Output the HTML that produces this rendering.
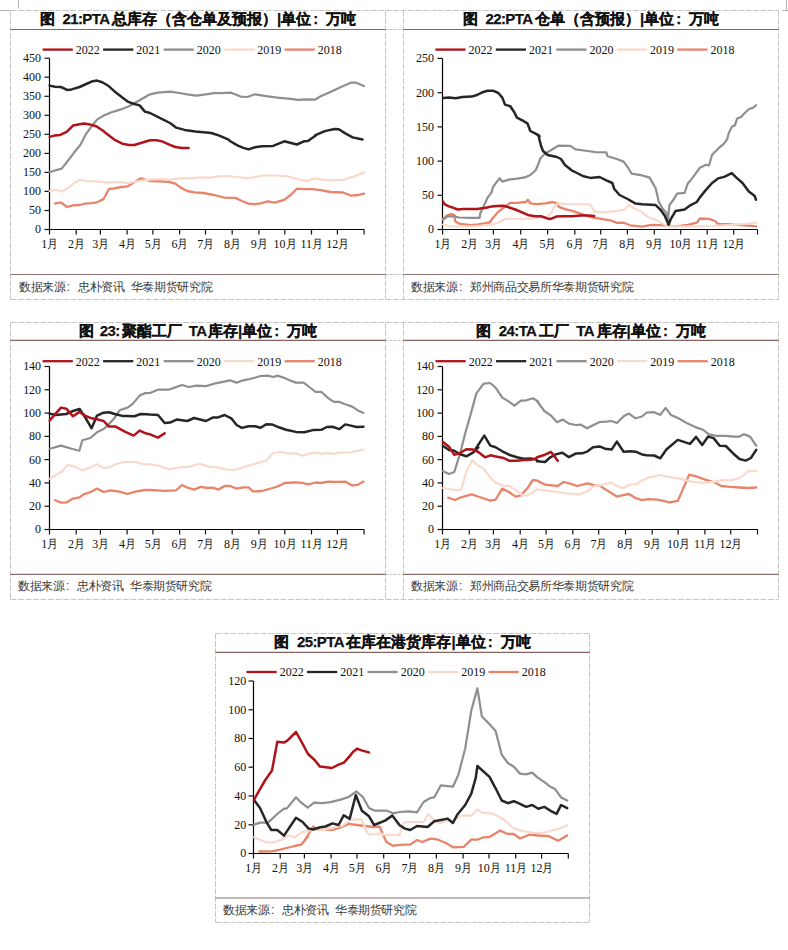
<!DOCTYPE html><html><head><meta charset="utf-8"><style>
html,body{margin:0;padding:0;background:#fff;width:788px;height:950px;overflow:hidden;position:relative}
.t{position:absolute;white-space:nowrap;line-height:1}
.title{font-family:"Liberation Sans",sans-serif;font-weight:bold;font-size:15px;color:#111;-webkit-text-stroke:0.25px #111}
.src{font-family:"Liberation Sans",sans-serif;font-size:12px;letter-spacing:-0.35px;color:#3a3a3a}
.c{display:inline-block;width:12.4px;padding-left:1.2px;box-sizing:border-box}
.sp{display:inline-block;width:6.2px}
.lt{letter-spacing:-0.6px;margin:0 2.5px 0 7.5px}
.lt2{letter-spacing:-0.6px;margin:0 1.5px 0 6.5px}
.lt3{letter-spacing:-0.6px;margin:0 2.5px 0 6px}
.tc{display:inline-block;width:15px;padding-left:2.2px;box-sizing:border-box;text-align:left}
svg{position:absolute;left:0;top:0}
.ax{font-family:"Liberation Serif",serif;font-size:12px;fill:#111}
</style></head><body>
<svg width="788" height="950" viewBox="0 0 788 950">
<path d="M10.5 10.5V299.5M385.5 10.5V299.5" fill="none" stroke="#c6c6c6" stroke-width="1" stroke-dasharray="6 1.5"/>
<path d="M10.5 10.5H778.5M10.5 299.5H778.5" fill="none" stroke="#c6c6c6" stroke-width="1" stroke-dasharray="6 1.5"/>
<line x1="385.5" y1="29.5" x2="403.5" y2="29.5" stroke="#c8c0c0" stroke-width="1" stroke-dasharray="3 1"/>
<line x1="385.5" y1="274.5" x2="403.5" y2="274.5" stroke="#c8c0c0" stroke-width="1" stroke-dasharray="3 1"/>
<line x1="10.5" y1="29.5" x2="385.5" y2="29.5" stroke="#87625f" stroke-width="1.1"/>
<line x1="10.5" y1="274.5" x2="385.5" y2="274.5" stroke="#8e7070" stroke-width="1.1"/>
<path d="M49.5 58.2V229.5H364.1" fill="none" stroke="#000" stroke-width="1.2"/>
<line x1="44.5" y1="229.5" x2="49.5" y2="229.5" stroke="#111" stroke-width="1.2"/>
<text class="ax" transform="translate(40.9 233.4) scale(1 1.11)" text-anchor="end">0</text>
<line x1="44.5" y1="210.5" x2="49.5" y2="210.5" stroke="#111" stroke-width="1.2"/>
<text class="ax" transform="translate(40.9 214.4) scale(1 1.11)" text-anchor="end">50</text>
<line x1="44.5" y1="191.4" x2="49.5" y2="191.4" stroke="#111" stroke-width="1.2"/>
<text class="ax" transform="translate(40.9 195.3) scale(1 1.11)" text-anchor="end">100</text>
<line x1="44.5" y1="172.4" x2="49.5" y2="172.4" stroke="#111" stroke-width="1.2"/>
<text class="ax" transform="translate(40.9 176.3) scale(1 1.11)" text-anchor="end">150</text>
<line x1="44.5" y1="153.4" x2="49.5" y2="153.4" stroke="#111" stroke-width="1.2"/>
<text class="ax" transform="translate(40.9 157.3) scale(1 1.11)" text-anchor="end">200</text>
<line x1="44.5" y1="134.3" x2="49.5" y2="134.3" stroke="#111" stroke-width="1.2"/>
<text class="ax" transform="translate(40.9 138.2) scale(1 1.11)" text-anchor="end">250</text>
<line x1="44.5" y1="115.3" x2="49.5" y2="115.3" stroke="#111" stroke-width="1.2"/>
<text class="ax" transform="translate(40.9 119.2) scale(1 1.11)" text-anchor="end">300</text>
<line x1="44.5" y1="96.3" x2="49.5" y2="96.3" stroke="#111" stroke-width="1.2"/>
<text class="ax" transform="translate(40.9 100.2) scale(1 1.11)" text-anchor="end">350</text>
<line x1="44.5" y1="77.2" x2="49.5" y2="77.2" stroke="#111" stroke-width="1.2"/>
<text class="ax" transform="translate(40.9 81.1) scale(1 1.11)" text-anchor="end">400</text>
<line x1="44.5" y1="58.2" x2="49.5" y2="58.2" stroke="#111" stroke-width="1.2"/>
<text class="ax" transform="translate(40.9 62.1) scale(1 1.11)" text-anchor="end">450</text>
<line x1="49.5" y1="229.5" x2="49.5" y2="234.5" stroke="#111" stroke-width="1.2"/>
<text class="ax" transform="translate(49.5 247.8) scale(1 1.11)" text-anchor="middle">1<tspan style="font-family:'Liberation Sans',sans-serif;font-size:10.6px">月</tspan></text>
<line x1="76.2" y1="229.5" x2="76.2" y2="234.5" stroke="#111" stroke-width="1.2"/>
<text class="ax" transform="translate(76.2 247.8) scale(1 1.11)" text-anchor="middle">2<tspan style="font-family:'Liberation Sans',sans-serif;font-size:10.6px">月</tspan></text>
<line x1="100.4" y1="229.5" x2="100.4" y2="234.5" stroke="#111" stroke-width="1.2"/>
<text class="ax" transform="translate(100.4 247.8) scale(1 1.11)" text-anchor="middle">3<tspan style="font-family:'Liberation Sans',sans-serif;font-size:10.6px">月</tspan></text>
<line x1="127.1" y1="229.5" x2="127.1" y2="234.5" stroke="#111" stroke-width="1.2"/>
<text class="ax" transform="translate(127.1 247.8) scale(1 1.11)" text-anchor="middle">4<tspan style="font-family:'Liberation Sans',sans-serif;font-size:10.6px">月</tspan></text>
<line x1="152.9" y1="229.5" x2="152.9" y2="234.5" stroke="#111" stroke-width="1.2"/>
<text class="ax" transform="translate(152.9 247.8) scale(1 1.11)" text-anchor="middle">5<tspan style="font-family:'Liberation Sans',sans-serif;font-size:10.6px">月</tspan></text>
<line x1="179.6" y1="229.5" x2="179.6" y2="234.5" stroke="#111" stroke-width="1.2"/>
<text class="ax" transform="translate(179.6 247.8) scale(1 1.11)" text-anchor="middle">6<tspan style="font-family:'Liberation Sans',sans-serif;font-size:10.6px">月</tspan></text>
<line x1="205.5" y1="229.5" x2="205.5" y2="234.5" stroke="#111" stroke-width="1.2"/>
<text class="ax" transform="translate(205.5 247.8) scale(1 1.11)" text-anchor="middle">7<tspan style="font-family:'Liberation Sans',sans-serif;font-size:10.6px">月</tspan></text>
<line x1="232.2" y1="229.5" x2="232.2" y2="234.5" stroke="#111" stroke-width="1.2"/>
<text class="ax" transform="translate(232.2 247.8) scale(1 1.11)" text-anchor="middle">8<tspan style="font-family:'Liberation Sans',sans-serif;font-size:10.6px">月</tspan></text>
<line x1="258.9" y1="229.5" x2="258.9" y2="234.5" stroke="#111" stroke-width="1.2"/>
<text class="ax" transform="translate(258.9 247.8) scale(1 1.11)" text-anchor="middle">9<tspan style="font-family:'Liberation Sans',sans-serif;font-size:10.6px">月</tspan></text>
<line x1="284.8" y1="229.5" x2="284.8" y2="234.5" stroke="#111" stroke-width="1.2"/>
<text class="ax" transform="translate(284.8 247.8) scale(1 1.11)" text-anchor="middle">10<tspan style="font-family:'Liberation Sans',sans-serif;font-size:10.6px">月</tspan></text>
<line x1="311.5" y1="229.5" x2="311.5" y2="234.5" stroke="#111" stroke-width="1.2"/>
<text class="ax" transform="translate(311.5 247.8) scale(1 1.11)" text-anchor="middle">11<tspan style="font-family:'Liberation Sans',sans-serif;font-size:10.6px">月</tspan></text>
<line x1="337.4" y1="229.5" x2="337.4" y2="234.5" stroke="#111" stroke-width="1.2"/>
<text class="ax" transform="translate(337.4 247.8) scale(1 1.11)" text-anchor="middle">12<tspan style="font-family:'Liberation Sans',sans-serif;font-size:10.6px">月</tspan></text>
<line x1="364.1" y1="229.5" x2="364.1" y2="234.5" stroke="#111" stroke-width="1.2"/>
<line x1="42.6" y1="49.6" x2="72.8" y2="49.6" stroke="#b0131a" stroke-width="2.3"/>
<text class="ax" transform="translate(75.8 53.9) scale(1 1.11)">2022</text>
<line x1="103.1" y1="49.6" x2="133.3" y2="49.6" stroke="#262626" stroke-width="2.3"/>
<text class="ax" transform="translate(136.3 53.9) scale(1 1.11)">2021</text>
<line x1="163.6" y1="49.6" x2="193.8" y2="49.6" stroke="#8f8f8f" stroke-width="2.3"/>
<text class="ax" transform="translate(196.8 53.9) scale(1 1.11)">2020</text>
<line x1="224.1" y1="49.6" x2="254.3" y2="49.6" stroke="#f8dacd" stroke-width="2.3"/>
<text class="ax" transform="translate(257.3 53.9) scale(1 1.11)">2019</text>
<line x1="284.6" y1="49.6" x2="314.8" y2="49.6" stroke="#e7846a" stroke-width="2.3"/>
<text class="ax" transform="translate(317.8 53.9) scale(1 1.11)">2018</text>
<path d="M55 203.6 61 202.3 67 207 73 205.4 79.6 205 85 203.6 91.6 203.2 97 202.3 103.6 199 109 189 114.3 188.3 121 187 127.6 186.3 134.3 182.3 140.9 178.3 150 181 159.3 181.4 168.7 181.9 175.3 183.6 180.6 187.6 187.3 191 194 192.3 203.3 193 214 195 224.6 197.6 235.3 197.9 241.9 201 248.6 203.6 255 204.1 260.6 203.4 267.6 201.3 274.5 202.7 284.3 199.9 290.6 195 296.9 188.7 303.9 189.2 312.2 189.2 320.6 190.1 330.4 192 342.9 192.5 351.3 195.7 358.3 195 363.9 193.6" fill="none" stroke="#e7846a" stroke-width="2.3" stroke-linejoin="round" stroke-linecap="round"/>
<path d="M49.7 191 55.7 189.9 61.7 191.6 67.7 188.3 73.6 183.6 79.6 179.6 87.6 181 98.3 181.6 107.6 182.7 119.6 181.9 127.6 183.2 135.6 181.6 143.6 180.3 150 179.6 160.7 179 170 179.6 179.3 178.3 190 178.3 200.6 177.4 210 177.6 219.3 176.3 227.3 176 236.6 177 248.6 178.3 255 176.9 263.4 175.5 273.1 175.5 287.1 176.2 296.9 179 306.6 181.1 315 178.3 322 179.7 331.8 180.4 342.9 179.9 352.7 176.9 363.9 172.7" fill="none" stroke="#f8dacd" stroke-width="2.2" stroke-linejoin="round" stroke-linecap="round"/>
<path d="M49.7 172.3 55.7 170.3 61.7 168.6 67.7 161 74.3 152.3 80.3 145 86.3 133.6 91.6 126.3 97 119.6 103.6 115.6 111.6 112.3 121 109.4 128.9 106.3 138.3 101 150 94.3 158 92.6 170 91.6 179.3 93 188.6 94.7 196.6 95.6 206 94.3 214 93.2 222 93.2 231.3 92.7 240.6 96.6 247.3 97 255 94.3 266.2 96.2 277.3 97.6 288.5 98.6 298.3 99.9 305.3 99.4 315 99.7 320.6 96.2 330.4 92 341.5 86.8 351.3 82.6 355.5 82.6 363.9 86" fill="none" stroke="#8f8f8f" stroke-width="2.2" stroke-linejoin="round" stroke-linecap="round"/>
<path d="M49.7 85.6 55 86.7 61 87 67 89.9 71.6 89.4 79.6 87 86.3 84 91.6 81.6 97 80.6 102.3 82.3 109 86.3 115.6 92.3 122.3 97.6 128.3 101.9 134.3 104 139.6 105.4 144.9 111.6 150 113 160.7 118.3 170 123 176 127.6 184.6 129.9 195.3 131.6 203.3 132.3 211.3 133 219.3 135.6 228.6 139.6 229.9 141 237.9 145.7 243.3 147.9 248.6 149.4 255 147.3 262 146.2 273.1 145.9 284.3 141.3 296.9 144.5 303.9 141.3 308 140.9 316.4 135 315 135.3 324.8 131.1 334.6 129 338.8 129.3 345.7 133.6 352.7 137.4 362.5 139.5" fill="none" stroke="#262626" stroke-width="2.5" stroke-linejoin="round" stroke-linecap="round"/>
<path d="M49.7 136.9 54.3 135.6 60.3 134.9 67 131.6 73 125.6 78.3 124.6 83.6 123.6 90.3 124.6 96.3 126.3 102.3 130.3 109 135.6 114.3 139.6 122.3 143.7 128.9 145 134.3 145 140.9 143 150 140.3 156.7 140.3 162 141.4 168.7 144.3 175.3 147 182 147.9 188.6 147.9" fill="none" stroke="#b0131a" stroke-width="2.5" stroke-linejoin="round" stroke-linecap="round"/>
<path d="M403.5 10.5V299.5M778.5 10.5V299.5" fill="none" stroke="#c6c6c6" stroke-width="1" stroke-dasharray="6 1.5"/>
<line x1="403.5" y1="29.5" x2="778.5" y2="29.5" stroke="#87625f" stroke-width="1.1"/>
<line x1="403.5" y1="274.5" x2="778.5" y2="274.5" stroke="#8e7070" stroke-width="1.1"/>
<path d="M442.5 58.5V229.5H757.5" fill="none" stroke="#000" stroke-width="1.2"/>
<line x1="437.5" y1="229.5" x2="442.5" y2="229.5" stroke="#111" stroke-width="1.2"/>
<text class="ax" transform="translate(433.9 233.4) scale(1 1.11)" text-anchor="end">0</text>
<line x1="437.5" y1="195.3" x2="442.5" y2="195.3" stroke="#111" stroke-width="1.2"/>
<text class="ax" transform="translate(433.9 199.2) scale(1 1.11)" text-anchor="end">50</text>
<line x1="437.5" y1="161.1" x2="442.5" y2="161.1" stroke="#111" stroke-width="1.2"/>
<text class="ax" transform="translate(433.9 165) scale(1 1.11)" text-anchor="end">100</text>
<line x1="437.5" y1="126.9" x2="442.5" y2="126.9" stroke="#111" stroke-width="1.2"/>
<text class="ax" transform="translate(433.9 130.8) scale(1 1.11)" text-anchor="end">150</text>
<line x1="437.5" y1="92.7" x2="442.5" y2="92.7" stroke="#111" stroke-width="1.2"/>
<text class="ax" transform="translate(433.9 96.6) scale(1 1.11)" text-anchor="end">200</text>
<line x1="437.5" y1="58.4" x2="442.5" y2="58.4" stroke="#111" stroke-width="1.2"/>
<text class="ax" transform="translate(433.9 62.3) scale(1 1.11)" text-anchor="end">250</text>
<line x1="442.6" y1="229.5" x2="442.6" y2="234.5" stroke="#111" stroke-width="1.2"/>
<text class="ax" transform="translate(442.6 247.8) scale(1 1.11)" text-anchor="middle">1<tspan style="font-family:'Liberation Sans',sans-serif;font-size:10.6px">月</tspan></text>
<line x1="469.4" y1="229.5" x2="469.4" y2="234.5" stroke="#111" stroke-width="1.2"/>
<text class="ax" transform="translate(469.4 247.8) scale(1 1.11)" text-anchor="middle">2<tspan style="font-family:'Liberation Sans',sans-serif;font-size:10.6px">月</tspan></text>
<line x1="493.4" y1="229.5" x2="493.4" y2="234.5" stroke="#111" stroke-width="1.2"/>
<text class="ax" transform="translate(493.4 247.8) scale(1 1.11)" text-anchor="middle">3<tspan style="font-family:'Liberation Sans',sans-serif;font-size:10.6px">月</tspan></text>
<line x1="520.7" y1="229.5" x2="520.7" y2="234.5" stroke="#111" stroke-width="1.2"/>
<text class="ax" transform="translate(520.7 247.8) scale(1 1.11)" text-anchor="middle">4<tspan style="font-family:'Liberation Sans',sans-serif;font-size:10.6px">月</tspan></text>
<line x1="547.6" y1="229.5" x2="547.6" y2="234.5" stroke="#111" stroke-width="1.2"/>
<text class="ax" transform="translate(547.6 247.8) scale(1 1.11)" text-anchor="middle">5<tspan style="font-family:'Liberation Sans',sans-serif;font-size:10.6px">月</tspan></text>
<line x1="574.8" y1="229.5" x2="574.8" y2="234.5" stroke="#111" stroke-width="1.2"/>
<text class="ax" transform="translate(574.8 247.8) scale(1 1.11)" text-anchor="middle">6<tspan style="font-family:'Liberation Sans',sans-serif;font-size:10.6px">月</tspan></text>
<line x1="600.7" y1="229.5" x2="600.7" y2="234.5" stroke="#111" stroke-width="1.2"/>
<text class="ax" transform="translate(600.7 247.8) scale(1 1.11)" text-anchor="middle">7<tspan style="font-family:'Liberation Sans',sans-serif;font-size:10.6px">月</tspan></text>
<line x1="627.4" y1="229.5" x2="627.4" y2="234.5" stroke="#111" stroke-width="1.2"/>
<text class="ax" transform="translate(627.4 247.8) scale(1 1.11)" text-anchor="middle">8<tspan style="font-family:'Liberation Sans',sans-serif;font-size:10.6px">月</tspan></text>
<line x1="654.3" y1="229.5" x2="654.3" y2="234.5" stroke="#111" stroke-width="1.2"/>
<text class="ax" transform="translate(654.3 247.8) scale(1 1.11)" text-anchor="middle">9<tspan style="font-family:'Liberation Sans',sans-serif;font-size:10.6px">月</tspan></text>
<line x1="680.7" y1="229.5" x2="680.7" y2="234.5" stroke="#111" stroke-width="1.2"/>
<text class="ax" transform="translate(680.7 247.8) scale(1 1.11)" text-anchor="middle">10<tspan style="font-family:'Liberation Sans',sans-serif;font-size:10.6px">月</tspan></text>
<line x1="707.2" y1="229.5" x2="707.2" y2="234.5" stroke="#111" stroke-width="1.2"/>
<text class="ax" transform="translate(707.2 247.8) scale(1 1.11)" text-anchor="middle">11<tspan style="font-family:'Liberation Sans',sans-serif;font-size:10.6px">月</tspan></text>
<line x1="733.7" y1="229.5" x2="733.7" y2="234.5" stroke="#111" stroke-width="1.2"/>
<text class="ax" transform="translate(733.7 247.8) scale(1 1.11)" text-anchor="middle">12<tspan style="font-family:'Liberation Sans',sans-serif;font-size:10.6px">月</tspan></text>
<line x1="757.5" y1="229.5" x2="757.5" y2="234.5" stroke="#111" stroke-width="1.2"/>
<line x1="435.3" y1="49.6" x2="465.5" y2="49.6" stroke="#b0131a" stroke-width="2.3"/>
<text class="ax" transform="translate(468.5 53.9) scale(1 1.11)">2022</text>
<line x1="495.8" y1="49.6" x2="526" y2="49.6" stroke="#262626" stroke-width="2.3"/>
<text class="ax" transform="translate(529 53.9) scale(1 1.11)">2021</text>
<line x1="556.3" y1="49.6" x2="586.5" y2="49.6" stroke="#8f8f8f" stroke-width="2.3"/>
<text class="ax" transform="translate(589.5 53.9) scale(1 1.11)">2020</text>
<line x1="616.8" y1="49.6" x2="647" y2="49.6" stroke="#f8dacd" stroke-width="2.3"/>
<text class="ax" transform="translate(650 53.9) scale(1 1.11)">2019</text>
<line x1="677.3" y1="49.6" x2="707.5" y2="49.6" stroke="#e7846a" stroke-width="2.3"/>
<text class="ax" transform="translate(710.5 53.9) scale(1 1.11)">2018</text>
<path d="M443 219 447.6 215.2 451.4 214.1 454.5 215.2 455.2 221.3 459 223.6 470.5 225.1 478.1 224.4 485.7 223.2 489.5 222.5 493.3 217.5 497.9 212.2 510 202.9 517.1 202.9 526 202 527.8 199.8 530.4 203.3 536.6 204.2 545.5 203.3 552.6 202 557.1 203.3 558.9 206.9 565.1 209.1 572.2 210.9 577.5 212.7 591.6 217.3 601 218.9 610.3 220.3 616.9 222.9 623.6 222.7 630.3 225.3 642 226.7 651.1 224.8 660.3 225.2 667.9 225.6 675.5 226.4 687.7 224.8 696.8 222.6 699.9 218.5 709 218.8 715.1 221 718.1 224.1 727.3 224.1 736.4 224.8 748.6 225.6 756.2 226.4" fill="none" stroke="#e7846a" stroke-width="2.3" stroke-linejoin="round" stroke-linecap="round"/>
<path d="M443 224.5 450 226.5 470 226.5 490 225 500 222 505 219 523.3 218.9 536.6 218 547.3 216.6 551.8 212.2 553.5 207.8 558 203.3 563.3 203.8 572.2 204.2 590.3 204.3 594.3 211.6 603.6 212.3 616.9 211 624.9 209.6 628.9 205 632.9 207.6 642 212.3 648.1 217.2 657.2 220.3 661.8 223.3 668.6 226.4 687.7 226.7 710.5 226.1 733.4 224.8 748.6 223.6 756.2 222.6" fill="none" stroke="#f8dacd" stroke-width="2.2" stroke-linejoin="round" stroke-linecap="round"/>
<path d="M443 219.8 447.6 216.4 453.7 216.4 459 217.5 470.5 217.9 479.6 217.9 480.4 212.9 483.4 206.9 487.6 197.6 491.6 192.3 493 187 497 181.6 499.6 178.3 502.3 181.6 509 179.6 516.9 178.7 524.9 177.4 530.3 175 535.6 170.3 538.3 164.3 540.3 158.3 545 153.7 551.7 149.7 558.3 145.7 570.3 145.9 575.6 149.4 587.6 151 595.6 152.1 606.3 152.3 607.6 156.3 616.9 159 623.6 161.6 627.6 167 631.6 173.6 642 175.4 649.6 177.6 655.7 188.3 658.8 202 663.3 209.6 666.4 212.7 667.9 220.3 669.4 205.1 674 199 677 193.6 684.6 192.9 687.7 183.7 693.8 176.1 699.9 167.7 706 164.7 709 165.5 712.1 154.8 718.1 148.7 724.2 143.4 727.3 139 728.8 132.9 731.8 126.8 734.9 125.3 737.2 118.4 741 116.9 744 113.8 748.6 109.3 753.2 107.7 755.9 105.2" fill="none" stroke="#8f8f8f" stroke-width="2.2" stroke-linejoin="round" stroke-linecap="round"/>
<path d="M443.4 97.9 449 97.4 455.7 98.3 462.3 97 471.6 96.6 477 95 482.3 92.3 487.6 90.7 493 90.7 498.3 93 502.3 97.6 505 104.6 510.3 106.3 514.3 112.3 516.9 117.6 522.3 120.3 527.6 123.6 530.3 131 535.6 133.6 539.6 136.3 538.3 135 541 145.7 543 151 547.7 155 557 157 561 159 565 165 571.6 170.3 577 173 583.6 176.3 590.3 177.9 599.6 177 606.3 180.3 612.3 183 614.3 189 619.6 195 627.6 199 635.6 203.6 642 204.3 655.7 205.1 660.3 209.6 664.8 215.7 668.6 224.8 670.9 218.8 675.5 211.1 684.6 209.6 690.7 205.1 696.8 202 699.9 197.4 706 189.8 712.1 183 718.1 178.4 724.2 176.9 731.8 173.1 736.4 177.6 742.5 183 748.6 191.3 754.7 195.9 755.9 199.7" fill="none" stroke="#262626" stroke-width="2.5" stroke-linejoin="round" stroke-linecap="round"/>
<path d="M443.1 201.5 444.4 204.2 448.9 206.4 453.3 207.8 457.8 209.5 463.1 209.1 471.1 209.1 477.3 209.1 481.8 208.2 486.2 207.8 491.5 206.4 496.9 206 504 205.8 510 207.8 515.3 209.5 521.5 212.2 527.8 214.9 534.9 216.2 541.1 216.2 547.3 218.4 550.9 218.9 556.2 216.6 563.3 216.2 572.2 216.2 577.5 215.8 581 215.6 587.6 215.6 594.3 216" fill="none" stroke="#b0131a" stroke-width="2.5" stroke-linejoin="round" stroke-linecap="round"/>
<path d="M10.5 322.5V599.5M385.5 322.5V599.5" fill="none" stroke="#c6c6c6" stroke-width="1" stroke-dasharray="6 1.5"/>
<path d="M10.5 322.5H778.5M10.5 599.5H778.5" fill="none" stroke="#c6c6c6" stroke-width="1" stroke-dasharray="6 1.5"/>
<line x1="385.5" y1="340.4" x2="403.5" y2="340.4" stroke="#c8c0c0" stroke-width="1" stroke-dasharray="3 1"/>
<line x1="385.5" y1="574.4" x2="403.5" y2="574.4" stroke="#c8c0c0" stroke-width="1" stroke-dasharray="3 1"/>
<line x1="10.5" y1="340.4" x2="385.5" y2="340.4" stroke="#87625f" stroke-width="1.1"/>
<line x1="10.5" y1="574.4" x2="385.5" y2="574.4" stroke="#8e7070" stroke-width="1.1"/>
<path d="M49.5 366.5V529.5H364.1" fill="none" stroke="#000" stroke-width="1.2"/>
<line x1="44.5" y1="529.5" x2="49.5" y2="529.5" stroke="#111" stroke-width="1.2"/>
<text class="ax" transform="translate(41.1 533.4) scale(1 1.11)" text-anchor="end">0</text>
<line x1="44.5" y1="506.2" x2="49.5" y2="506.2" stroke="#111" stroke-width="1.2"/>
<text class="ax" transform="translate(41.1 510.1) scale(1 1.11)" text-anchor="end">20</text>
<line x1="44.5" y1="482.9" x2="49.5" y2="482.9" stroke="#111" stroke-width="1.2"/>
<text class="ax" transform="translate(41.1 486.8) scale(1 1.11)" text-anchor="end">40</text>
<line x1="44.5" y1="459.6" x2="49.5" y2="459.6" stroke="#111" stroke-width="1.2"/>
<text class="ax" transform="translate(41.1 463.5) scale(1 1.11)" text-anchor="end">60</text>
<line x1="44.5" y1="436.4" x2="49.5" y2="436.4" stroke="#111" stroke-width="1.2"/>
<text class="ax" transform="translate(41.1 440.3) scale(1 1.11)" text-anchor="end">80</text>
<line x1="44.5" y1="413.1" x2="49.5" y2="413.1" stroke="#111" stroke-width="1.2"/>
<text class="ax" transform="translate(41.1 417) scale(1 1.11)" text-anchor="end">100</text>
<line x1="44.5" y1="389.8" x2="49.5" y2="389.8" stroke="#111" stroke-width="1.2"/>
<text class="ax" transform="translate(41.1 393.7) scale(1 1.11)" text-anchor="end">120</text>
<line x1="44.5" y1="366.5" x2="49.5" y2="366.5" stroke="#111" stroke-width="1.2"/>
<text class="ax" transform="translate(41.1 370.4) scale(1 1.11)" text-anchor="end">140</text>
<line x1="49.5" y1="529.5" x2="49.5" y2="534.5" stroke="#111" stroke-width="1.2"/>
<text class="ax" transform="translate(49.5 547.8) scale(1 1.11)" text-anchor="middle">1<tspan style="font-family:'Liberation Sans',sans-serif;font-size:10.6px">月</tspan></text>
<line x1="76.2" y1="529.5" x2="76.2" y2="534.5" stroke="#111" stroke-width="1.2"/>
<text class="ax" transform="translate(76.2 547.8) scale(1 1.11)" text-anchor="middle">2<tspan style="font-family:'Liberation Sans',sans-serif;font-size:10.6px">月</tspan></text>
<line x1="100.4" y1="529.5" x2="100.4" y2="534.5" stroke="#111" stroke-width="1.2"/>
<text class="ax" transform="translate(100.4 547.8) scale(1 1.11)" text-anchor="middle">3<tspan style="font-family:'Liberation Sans',sans-serif;font-size:10.6px">月</tspan></text>
<line x1="127.1" y1="529.5" x2="127.1" y2="534.5" stroke="#111" stroke-width="1.2"/>
<text class="ax" transform="translate(127.1 547.8) scale(1 1.11)" text-anchor="middle">4<tspan style="font-family:'Liberation Sans',sans-serif;font-size:10.6px">月</tspan></text>
<line x1="152.9" y1="529.5" x2="152.9" y2="534.5" stroke="#111" stroke-width="1.2"/>
<text class="ax" transform="translate(152.9 547.8) scale(1 1.11)" text-anchor="middle">5<tspan style="font-family:'Liberation Sans',sans-serif;font-size:10.6px">月</tspan></text>
<line x1="179.6" y1="529.5" x2="179.6" y2="534.5" stroke="#111" stroke-width="1.2"/>
<text class="ax" transform="translate(179.6 547.8) scale(1 1.11)" text-anchor="middle">6<tspan style="font-family:'Liberation Sans',sans-serif;font-size:10.6px">月</tspan></text>
<line x1="205.5" y1="529.5" x2="205.5" y2="534.5" stroke="#111" stroke-width="1.2"/>
<text class="ax" transform="translate(205.5 547.8) scale(1 1.11)" text-anchor="middle">7<tspan style="font-family:'Liberation Sans',sans-serif;font-size:10.6px">月</tspan></text>
<line x1="232.2" y1="529.5" x2="232.2" y2="534.5" stroke="#111" stroke-width="1.2"/>
<text class="ax" transform="translate(232.2 547.8) scale(1 1.11)" text-anchor="middle">8<tspan style="font-family:'Liberation Sans',sans-serif;font-size:10.6px">月</tspan></text>
<line x1="258.9" y1="529.5" x2="258.9" y2="534.5" stroke="#111" stroke-width="1.2"/>
<text class="ax" transform="translate(258.9 547.8) scale(1 1.11)" text-anchor="middle">9<tspan style="font-family:'Liberation Sans',sans-serif;font-size:10.6px">月</tspan></text>
<line x1="284.8" y1="529.5" x2="284.8" y2="534.5" stroke="#111" stroke-width="1.2"/>
<text class="ax" transform="translate(284.8 547.8) scale(1 1.11)" text-anchor="middle">10<tspan style="font-family:'Liberation Sans',sans-serif;font-size:10.6px">月</tspan></text>
<line x1="311.5" y1="529.5" x2="311.5" y2="534.5" stroke="#111" stroke-width="1.2"/>
<text class="ax" transform="translate(311.5 547.8) scale(1 1.11)" text-anchor="middle">11<tspan style="font-family:'Liberation Sans',sans-serif;font-size:10.6px">月</tspan></text>
<line x1="337.4" y1="529.5" x2="337.4" y2="534.5" stroke="#111" stroke-width="1.2"/>
<text class="ax" transform="translate(337.4 547.8) scale(1 1.11)" text-anchor="middle">12<tspan style="font-family:'Liberation Sans',sans-serif;font-size:10.6px">月</tspan></text>
<line x1="364.1" y1="529.5" x2="364.1" y2="534.5" stroke="#111" stroke-width="1.2"/>
<line x1="42.6" y1="361.2" x2="72.8" y2="361.2" stroke="#b0131a" stroke-width="2.3"/>
<text class="ax" transform="translate(75.8 365.5) scale(1 1.11)">2022</text>
<line x1="103.1" y1="361.2" x2="133.3" y2="361.2" stroke="#262626" stroke-width="2.3"/>
<text class="ax" transform="translate(136.3 365.5) scale(1 1.11)">2021</text>
<line x1="163.6" y1="361.2" x2="193.8" y2="361.2" stroke="#8f8f8f" stroke-width="2.3"/>
<text class="ax" transform="translate(196.8 365.5) scale(1 1.11)">2020</text>
<line x1="224.1" y1="361.2" x2="254.3" y2="361.2" stroke="#f8dacd" stroke-width="2.3"/>
<text class="ax" transform="translate(257.3 365.5) scale(1 1.11)">2019</text>
<line x1="284.6" y1="361.2" x2="314.8" y2="361.2" stroke="#e7846a" stroke-width="2.3"/>
<text class="ax" transform="translate(317.8 365.5) scale(1 1.11)">2018</text>
<path d="M55 500.2 61 502.6 66.3 502.4 73 498.6 79.6 497.3 83.6 494.4 90.3 492.2 97 488.6 103.6 492 110.3 490.4 119.6 491.7 127.6 494 135.6 491.7 144.9 490 150 490 164.7 490.9 176 490.4 182 485 187.3 487.7 194 489.6 200.6 486.9 207.3 488 212.6 487.7 218.6 489.6 224.6 486 229.9 486 236.6 488.6 243.3 487.3 248.6 487.3 252.6 491.3 255 491.4 262 491 269.1 489 277.5 486.5 284.6 483 295.9 482.3 302.9 483 308.5 484.4 315.6 482.5 321.2 483 328.2 481.6 336.7 481.8 345.2 481.6 352.2 485.4 357.8 484.8 363.5 481.6" fill="none" stroke="#e7846a" stroke-width="2.3" stroke-linejoin="round" stroke-linecap="round"/>
<path d="M49.7 478.6 55.7 475.3 62.3 471.3 67.7 464.7 74.3 466.6 82.3 470.4 89 468 97 464.3 103.6 468 110.3 467.3 115.6 464 124.9 462 135.6 462 143.6 464.3 150 464.3 156.7 465.3 168.7 469.3 179.3 467.3 190 466.6 199.3 463.7 208.6 466.6 216.6 467.3 227.3 469.6 233.9 470 243.3 467.3 255 463.9 266.3 460.4 273.3 453 280.4 452 288.8 453.4 295.9 453.4 302.9 455.8 309.9 453.4 315.6 452.4 321.2 453.8 328.2 453 333.9 453.8 339.5 452.7 350.8 452.4 356.4 451 363.5 449.6" fill="none" stroke="#f8dacd" stroke-width="2.2" stroke-linejoin="round" stroke-linecap="round"/>
<path d="M49.7 448.7 61 445.6 71.6 448.7 79.4 450.7 82.3 440.3 90.3 438 97 432.3 103.6 429 107.6 425.6 114.3 418.3 119.6 410.3 127.6 407.6 132.9 403.6 139.6 395.6 144.9 393.2 150 393 158 389.7 168.7 389.7 175.3 387.4 182 385 188.6 387 196.6 385.7 206 386.1 214 383.7 220.6 382.3 229.9 380.3 236.6 382.6 243.3 380.3 249.9 379 255 377.7 260.6 376 267.7 375.6 273.3 377 277.5 375.6 284.6 378 290.2 380.5 295.9 382.6 303.6 382.6 309.9 387.5 315.6 391.8 321.2 391.8 328.2 398.1 333.9 401.9 339.5 401.9 345.2 404.2 352.2 406.6 357.8 410.4 363.5 412.9" fill="none" stroke="#8f8f8f" stroke-width="2.2" stroke-linejoin="round" stroke-linecap="round"/>
<path d="M49.7 413.6 55.7 415 66.3 414 73 411 79.6 409 85 417 91.6 428.3 97 415.6 103.6 412.7 109 412.3 115.6 414.3 122.3 415.9 127.6 415.9 134.3 416.3 140.9 414 146.3 414.3 150 414.6 158 415 164.7 423 170 422.6 176.6 419.6 187.3 421 194 418 206 421 212.6 417.6 218 417.4 224.6 415 231.3 418.3 236.6 425 241.9 427.9 248.6 426.3 255 426.3 260.6 427.7 266.3 424.2 271.9 424.4 278.9 427.3 286 429.8 295.9 431.9 304.3 432.3 312.8 430.1 321.2 429.8 326.8 427 332.5 426.7 339.5 429.1 345.2 424.4 350.8 425.6 356.4 427 363.5 426.7" fill="none" stroke="#262626" stroke-width="2.5" stroke-linejoin="round" stroke-linecap="round"/>
<path d="M49.7 420.3 55 414.3 61 407.6 66.3 408.7 73 416.3 79.6 411.9 85 415.6 91.6 418.3 98.3 419.6 103.6 421 109 426.6 115.6 426.6 124.9 431.6 133.6 435.6 139.6 430.6 146.3 433.6 150 434.3 158 437.6 164.7 433.2" fill="none" stroke="#b0131a" stroke-width="2.5" stroke-linejoin="round" stroke-linecap="round"/>
<path d="M403.5 322.5V599.5M778.5 322.5V599.5" fill="none" stroke="#c6c6c6" stroke-width="1" stroke-dasharray="6 1.5"/>
<line x1="403.5" y1="340.4" x2="778.5" y2="340.4" stroke="#87625f" stroke-width="1.1"/>
<line x1="403.5" y1="574.4" x2="778.5" y2="574.4" stroke="#8e7070" stroke-width="1.1"/>
<path d="M442.5 366.5V529.5H757.5" fill="none" stroke="#000" stroke-width="1.2"/>
<line x1="437.5" y1="529.5" x2="442.5" y2="529.5" stroke="#111" stroke-width="1.2"/>
<text class="ax" transform="translate(434.1 533.4) scale(1 1.11)" text-anchor="end">0</text>
<line x1="437.5" y1="506.2" x2="442.5" y2="506.2" stroke="#111" stroke-width="1.2"/>
<text class="ax" transform="translate(434.1 510.1) scale(1 1.11)" text-anchor="end">20</text>
<line x1="437.5" y1="482.9" x2="442.5" y2="482.9" stroke="#111" stroke-width="1.2"/>
<text class="ax" transform="translate(434.1 486.8) scale(1 1.11)" text-anchor="end">40</text>
<line x1="437.5" y1="459.6" x2="442.5" y2="459.6" stroke="#111" stroke-width="1.2"/>
<text class="ax" transform="translate(434.1 463.5) scale(1 1.11)" text-anchor="end">60</text>
<line x1="437.5" y1="436.4" x2="442.5" y2="436.4" stroke="#111" stroke-width="1.2"/>
<text class="ax" transform="translate(434.1 440.3) scale(1 1.11)" text-anchor="end">80</text>
<line x1="437.5" y1="413.1" x2="442.5" y2="413.1" stroke="#111" stroke-width="1.2"/>
<text class="ax" transform="translate(434.1 417) scale(1 1.11)" text-anchor="end">100</text>
<line x1="437.5" y1="389.8" x2="442.5" y2="389.8" stroke="#111" stroke-width="1.2"/>
<text class="ax" transform="translate(434.1 393.7) scale(1 1.11)" text-anchor="end">120</text>
<line x1="437.5" y1="366.5" x2="442.5" y2="366.5" stroke="#111" stroke-width="1.2"/>
<text class="ax" transform="translate(434.1 370.4) scale(1 1.11)" text-anchor="end">140</text>
<line x1="442.5" y1="529.5" x2="442.5" y2="534.5" stroke="#111" stroke-width="1.2"/>
<text class="ax" transform="translate(442.5 547.8) scale(1 1.11)" text-anchor="middle">1<tspan style="font-family:'Liberation Sans',sans-serif;font-size:10.6px">月</tspan></text>
<line x1="469.3" y1="529.5" x2="469.3" y2="534.5" stroke="#111" stroke-width="1.2"/>
<text class="ax" transform="translate(469.3 547.8) scale(1 1.11)" text-anchor="middle">2<tspan style="font-family:'Liberation Sans',sans-serif;font-size:10.6px">月</tspan></text>
<line x1="493.4" y1="529.5" x2="493.4" y2="534.5" stroke="#111" stroke-width="1.2"/>
<text class="ax" transform="translate(493.4 547.8) scale(1 1.11)" text-anchor="middle">3<tspan style="font-family:'Liberation Sans',sans-serif;font-size:10.6px">月</tspan></text>
<line x1="520.2" y1="529.5" x2="520.2" y2="534.5" stroke="#111" stroke-width="1.2"/>
<text class="ax" transform="translate(520.2 547.8) scale(1 1.11)" text-anchor="middle">4<tspan style="font-family:'Liberation Sans',sans-serif;font-size:10.6px">月</tspan></text>
<line x1="546.1" y1="529.5" x2="546.1" y2="534.5" stroke="#111" stroke-width="1.2"/>
<text class="ax" transform="translate(546.1 547.8) scale(1 1.11)" text-anchor="middle">5<tspan style="font-family:'Liberation Sans',sans-serif;font-size:10.6px">月</tspan></text>
<line x1="572.8" y1="529.5" x2="572.8" y2="534.5" stroke="#111" stroke-width="1.2"/>
<text class="ax" transform="translate(572.8 547.8) scale(1 1.11)" text-anchor="middle">6<tspan style="font-family:'Liberation Sans',sans-serif;font-size:10.6px">月</tspan></text>
<line x1="598.7" y1="529.5" x2="598.7" y2="534.5" stroke="#111" stroke-width="1.2"/>
<text class="ax" transform="translate(598.7 547.8) scale(1 1.11)" text-anchor="middle">7<tspan style="font-family:'Liberation Sans',sans-serif;font-size:10.6px">月</tspan></text>
<line x1="625.5" y1="529.5" x2="625.5" y2="534.5" stroke="#111" stroke-width="1.2"/>
<text class="ax" transform="translate(625.5 547.8) scale(1 1.11)" text-anchor="middle">8<tspan style="font-family:'Liberation Sans',sans-serif;font-size:10.6px">月</tspan></text>
<line x1="652.2" y1="529.5" x2="652.2" y2="534.5" stroke="#111" stroke-width="1.2"/>
<text class="ax" transform="translate(652.2 547.8) scale(1 1.11)" text-anchor="middle">9<tspan style="font-family:'Liberation Sans',sans-serif;font-size:10.6px">月</tspan></text>
<line x1="678.1" y1="529.5" x2="678.1" y2="534.5" stroke="#111" stroke-width="1.2"/>
<text class="ax" transform="translate(678.1 547.8) scale(1 1.11)" text-anchor="middle">10<tspan style="font-family:'Liberation Sans',sans-serif;font-size:10.6px">月</tspan></text>
<line x1="704.9" y1="529.5" x2="704.9" y2="534.5" stroke="#111" stroke-width="1.2"/>
<text class="ax" transform="translate(704.9 547.8) scale(1 1.11)" text-anchor="middle">11<tspan style="font-family:'Liberation Sans',sans-serif;font-size:10.6px">月</tspan></text>
<line x1="730.7" y1="529.5" x2="730.7" y2="534.5" stroke="#111" stroke-width="1.2"/>
<text class="ax" transform="translate(730.7 547.8) scale(1 1.11)" text-anchor="middle">12<tspan style="font-family:'Liberation Sans',sans-serif;font-size:10.6px">月</tspan></text>
<line x1="757.5" y1="529.5" x2="757.5" y2="534.5" stroke="#111" stroke-width="1.2"/>
<line x1="435.5" y1="361.2" x2="465.7" y2="361.2" stroke="#b0131a" stroke-width="2.3"/>
<text class="ax" transform="translate(468.7 365.5) scale(1 1.11)">2022</text>
<line x1="496" y1="361.2" x2="526.2" y2="361.2" stroke="#262626" stroke-width="2.3"/>
<text class="ax" transform="translate(529.2 365.5) scale(1 1.11)">2021</text>
<line x1="556.5" y1="361.2" x2="586.7" y2="361.2" stroke="#8f8f8f" stroke-width="2.3"/>
<text class="ax" transform="translate(589.7 365.5) scale(1 1.11)">2020</text>
<line x1="617" y1="361.2" x2="647.2" y2="361.2" stroke="#f8dacd" stroke-width="2.3"/>
<text class="ax" transform="translate(650.2 365.5) scale(1 1.11)">2019</text>
<line x1="677.5" y1="361.2" x2="707.7" y2="361.2" stroke="#e7846a" stroke-width="2.3"/>
<text class="ax" transform="translate(710.7 365.5) scale(1 1.11)">2018</text>
<path d="M448.3 497.6 455 500 461 497.3 471.6 494.4 479.6 497 490.3 500.6 495.6 499.7 502.3 488.6 509 492 515.6 496.6 520.9 495.3 527.6 488 532.9 480 537 480.6 545 484.6 551.7 485.3 557.7 486 563.6 482 570.3 483.7 577 486 587.6 483.3 594.3 485.3 599.6 485.6 606.3 490 616.9 496.6 622.3 495.3 628.9 494 635.6 498 642 500.2 648.1 499.1 657.2 499.7 663.3 500.9 669.4 502.4 677.8 500.9 683.1 488.7 689.2 474.7 695.3 476.2 706 479.9 715.1 482.6 721.2 486 730.3 486.9 739.5 487.5 748.6 488 756.2 487.5" fill="none" stroke="#e7846a" stroke-width="2.3" stroke-linejoin="round" stroke-linecap="round"/>
<path d="M443 488 449 489 455.7 490.4 461 490 466.3 472 472.3 460 477 464.7 483.6 468.6 490.3 477.3 495.6 482.6 502.3 485.6 509 486 516.9 490.6 522.3 495.3 527.6 495.3 535.6 490.6 537 489.3 545 490.4 557 492 570.3 493.6 579.6 494.4 587.6 491.3 594.3 486 601 485.3 610.3 482.6 616.9 486 623.6 488 630.3 484.6 636.9 484 642 480.4 649.6 477.3 660.3 475 666.4 476.5 675.5 477.8 684.6 479.9 692.3 481.9 702.9 482.9 713.6 481.9 722.7 479.9 730.3 480.4 739.5 478.1 748.6 471.2 756.2 470.8" fill="none" stroke="#f8dacd" stroke-width="2.2" stroke-linejoin="round" stroke-linecap="round"/>
<path d="M443 471.3 449 474 454.3 472 457 463.3 460.3 452.7 465 434.3 470.3 415.6 476.3 393.6 483.6 383.7 490.3 383 495.6 387.7 502.3 397.6 509 401.6 514.3 405.6 520.9 400.7 526.3 400.3 532.9 398.3 538.3 401.6 537 401 544.3 411 551 415.6 557 422.3 563 419.6 569 423.6 575.6 425 581 424.7 587 428.3 593 425.2 599.6 422 606.3 421.6 611.6 421 616.9 423 623.6 416.3 628.9 413.6 635.6 418.3 642 416.5 646.6 412.5 654.2 412.2 660.3 414.9 665.6 407.9 670.9 414.9 678.5 418.3 687.7 423.6 695.3 427.1 702.9 429.7 709 434.3 716.6 435.8 725.8 435.8 733.4 436.6 739.5 436.6 744 434.3 750.1 436.6 756.2 445.7" fill="none" stroke="#8f8f8f" stroke-width="2.2" stroke-linejoin="round" stroke-linecap="round"/>
<path d="M443 446 449 450 454.3 450.7 459.7 454 466.3 456.3 473 452.7 478.3 447.3 475.6 448.9 484.3 435.6 490.3 445.6 495.6 447.3 502.3 451.3 509 454.7 516.9 457.3 523.6 458.7 530.3 458.4 535.6 459.3 538.3 461.3 537 461.3 545 462 550.3 457.3 555.7 454.4 562.3 452.7 569 457.1 575.6 453.6 582.3 453.3 587.6 451.3 593 447.3 599.6 446.4 605 448.7 611.6 449.6 616.9 441.6 623.6 451.7 630.3 451.3 635.6 451.7 642 454.4 646.6 455.2 654.2 455.5 660.3 458.3 666.4 449.5 677.8 439.9 690 443.9 696.1 436.9 702.2 444.9 708.2 436.6 713.6 438.1 719.7 445.7 725.8 446 733.4 453.7 739.5 459 745.6 460.6 750.9 458 756.2 449.9" fill="none" stroke="#262626" stroke-width="2.5" stroke-linejoin="round" stroke-linecap="round"/>
<path d="M443 442 449 446.7 454.3 454.9 459.7 453.3 466.3 449.3 473 449.6 478.3 452 485 457.3 490.3 455.3 497 456.7 503.6 458 509 460.7 516.9 460.7 523.6 460 530.3 459.7 535.6 458.7 537 457.3 545 454.7 551 452 553.7 455.3 557.7 460.7" fill="none" stroke="#b0131a" stroke-width="2.5" stroke-linejoin="round" stroke-linecap="round"/>
<path d="M215.5 633.5V922.5M589.5 633.5V922.5" fill="none" stroke="#c6c6c6" stroke-width="1" stroke-dasharray="6 1.5"/>
<path d="M215.5 633.5H589.5M215.5 922.5H589.5" fill="none" stroke="#c6c6c6" stroke-width="1" stroke-dasharray="6 1.5"/>
<line x1="215.5" y1="652.4" x2="589.5" y2="652.4" stroke="#87625f" stroke-width="1.1"/>
<line x1="215.5" y1="898.0" x2="589.5" y2="898.0" stroke="#8e7070" stroke-width="1.1"/>
<path d="M253.5 681V853.5H568.3" fill="none" stroke="#000" stroke-width="1.2"/>
<line x1="248.5" y1="853.5" x2="253.5" y2="853.5" stroke="#111" stroke-width="1.2"/>
<text class="ax" transform="translate(246.3 857.4) scale(1 1.11)" text-anchor="end">0</text>
<line x1="248.5" y1="824.8" x2="253.5" y2="824.8" stroke="#111" stroke-width="1.2"/>
<text class="ax" transform="translate(246.3 828.6) scale(1 1.11)" text-anchor="end">20</text>
<line x1="248.5" y1="796" x2="253.5" y2="796" stroke="#111" stroke-width="1.2"/>
<text class="ax" transform="translate(246.3 799.9) scale(1 1.11)" text-anchor="end">40</text>
<line x1="248.5" y1="767.2" x2="253.5" y2="767.2" stroke="#111" stroke-width="1.2"/>
<text class="ax" transform="translate(246.3 771.1) scale(1 1.11)" text-anchor="end">60</text>
<line x1="248.5" y1="738.5" x2="253.5" y2="738.5" stroke="#111" stroke-width="1.2"/>
<text class="ax" transform="translate(246.3 742.4) scale(1 1.11)" text-anchor="end">80</text>
<line x1="248.5" y1="709.8" x2="253.5" y2="709.8" stroke="#111" stroke-width="1.2"/>
<text class="ax" transform="translate(246.3 713.6) scale(1 1.11)" text-anchor="end">100</text>
<line x1="248.5" y1="681" x2="253.5" y2="681" stroke="#111" stroke-width="1.2"/>
<text class="ax" transform="translate(246.3 684.9) scale(1 1.11)" text-anchor="end">120</text>
<line x1="253.5" y1="853.5" x2="253.5" y2="858.5" stroke="#111" stroke-width="1.2"/>
<text class="ax" transform="translate(253.5 871.8) scale(1 1.11)" text-anchor="middle">1<tspan style="font-family:'Liberation Sans',sans-serif;font-size:10.6px">月</tspan></text>
<line x1="280.2" y1="853.5" x2="280.2" y2="858.5" stroke="#111" stroke-width="1.2"/>
<text class="ax" transform="translate(280.2 871.8) scale(1 1.11)" text-anchor="middle">2<tspan style="font-family:'Liberation Sans',sans-serif;font-size:10.6px">月</tspan></text>
<line x1="304.4" y1="853.5" x2="304.4" y2="858.5" stroke="#111" stroke-width="1.2"/>
<text class="ax" transform="translate(304.4 871.8) scale(1 1.11)" text-anchor="middle">3<tspan style="font-family:'Liberation Sans',sans-serif;font-size:10.6px">月</tspan></text>
<line x1="331.1" y1="853.5" x2="331.1" y2="858.5" stroke="#111" stroke-width="1.2"/>
<text class="ax" transform="translate(331.1 871.8) scale(1 1.11)" text-anchor="middle">4<tspan style="font-family:'Liberation Sans',sans-serif;font-size:10.6px">月</tspan></text>
<line x1="357" y1="853.5" x2="357" y2="858.5" stroke="#111" stroke-width="1.2"/>
<text class="ax" transform="translate(357 871.8) scale(1 1.11)" text-anchor="middle">5<tspan style="font-family:'Liberation Sans',sans-serif;font-size:10.6px">月</tspan></text>
<line x1="383.7" y1="853.5" x2="383.7" y2="858.5" stroke="#111" stroke-width="1.2"/>
<text class="ax" transform="translate(383.7 871.8) scale(1 1.11)" text-anchor="middle">6<tspan style="font-family:'Liberation Sans',sans-serif;font-size:10.6px">月</tspan></text>
<line x1="409.6" y1="853.5" x2="409.6" y2="858.5" stroke="#111" stroke-width="1.2"/>
<text class="ax" transform="translate(409.6 871.8) scale(1 1.11)" text-anchor="middle">7<tspan style="font-family:'Liberation Sans',sans-serif;font-size:10.6px">月</tspan></text>
<line x1="436.3" y1="853.5" x2="436.3" y2="858.5" stroke="#111" stroke-width="1.2"/>
<text class="ax" transform="translate(436.3 871.8) scale(1 1.11)" text-anchor="middle">8<tspan style="font-family:'Liberation Sans',sans-serif;font-size:10.6px">月</tspan></text>
<line x1="463.1" y1="853.5" x2="463.1" y2="858.5" stroke="#111" stroke-width="1.2"/>
<text class="ax" transform="translate(463.1 871.8) scale(1 1.11)" text-anchor="middle">9<tspan style="font-family:'Liberation Sans',sans-serif;font-size:10.6px">月</tspan></text>
<line x1="489" y1="853.5" x2="489" y2="858.5" stroke="#111" stroke-width="1.2"/>
<text class="ax" transform="translate(489 871.8) scale(1 1.11)" text-anchor="middle">10<tspan style="font-family:'Liberation Sans',sans-serif;font-size:10.6px">月</tspan></text>
<line x1="515.7" y1="853.5" x2="515.7" y2="858.5" stroke="#111" stroke-width="1.2"/>
<text class="ax" transform="translate(515.7 871.8) scale(1 1.11)" text-anchor="middle">11<tspan style="font-family:'Liberation Sans',sans-serif;font-size:10.6px">月</tspan></text>
<line x1="541.6" y1="853.5" x2="541.6" y2="858.5" stroke="#111" stroke-width="1.2"/>
<text class="ax" transform="translate(541.6 871.8) scale(1 1.11)" text-anchor="middle">12<tspan style="font-family:'Liberation Sans',sans-serif;font-size:10.6px">月</tspan></text>
<line x1="568.3" y1="853.5" x2="568.3" y2="858.5" stroke="#111" stroke-width="1.2"/>
<line x1="246.5" y1="672.0" x2="276.7" y2="672.0" stroke="#b0131a" stroke-width="2.3"/>
<text class="ax" transform="translate(279.7 676.3) scale(1 1.11)">2022</text>
<line x1="307" y1="672.0" x2="337.2" y2="672.0" stroke="#262626" stroke-width="2.3"/>
<text class="ax" transform="translate(340.2 676.3) scale(1 1.11)">2021</text>
<line x1="367.5" y1="672.0" x2="397.7" y2="672.0" stroke="#8f8f8f" stroke-width="2.3"/>
<text class="ax" transform="translate(400.7 676.3) scale(1 1.11)">2020</text>
<line x1="428" y1="672.0" x2="458.2" y2="672.0" stroke="#f8dacd" stroke-width="2.3"/>
<text class="ax" transform="translate(461.2 676.3) scale(1 1.11)">2019</text>
<line x1="488.5" y1="672.0" x2="518.7" y2="672.0" stroke="#e7846a" stroke-width="2.3"/>
<text class="ax" transform="translate(521.7 676.3) scale(1 1.11)">2018</text>
<path d="M259.3 851.5 272 851.3 280 849.7 286.6 848 294.6 846 301.3 844.6 308 836.6 305.1 839.7 310.2 831.5 313.2 826.5 318.3 829.5 325.4 829.5 332.5 830 340.6 827.5 348.7 823.9 356.9 825 365 826 373.1 827 379.6 826.6 381.6 831.3 386.3 842 393 845.7 403.6 844.6 410.3 844.6 417 840 422.3 842 430.3 838.6 436.9 839.3 446.3 843.3 452.9 847.3 463.7 846.9 471.3 839.7 477.4 839.7 483.5 837.3 489.5 837 500.2 830.6 507.8 834 513.9 834 520 838.5 529.1 834.7 538.3 835.5 548.9 836.2 558.1 840.8 567.2 835.5" fill="none" stroke="#e7846a" stroke-width="2.3" stroke-linejoin="round" stroke-linecap="round"/>
<path d="M254 837.3 260 839.6 265.3 842 272 842.6 281.3 840 288 835.3 294.6 837.3 301.3 832.6 308 830.6 314.6 829.3 322.6 830 333.3 828 317.3 828 325.4 827.5 333.5 827.5 342.6 825.5 350.8 819.9 356.9 819.4 361.9 819.9 366 830.5 369 834.6 375.1 834.1 380 833.4 383.6 834.6 399.6 835 403.6 822.6 413 822 423.6 822 428.3 814 432.9 819.3 439.6 823.3 446.3 820.6 454.3 820.6 460.6 815.7 471.3 815.7 477.4 809.3 481.9 812.6 491.1 813.4 497.2 815.7 504.8 820.3 512.4 827.6 521.5 830.9 532.2 832.7 541.3 833.2 547.4 831.7 559.6 828.6 567.2 825.6" fill="none" stroke="#f8dacd" stroke-width="2.2" stroke-linejoin="round" stroke-linecap="round"/>
<path d="M254 824.6 260 822.6 268 822.6 277.3 814 284 808.6 286.6 808.6 296 797.3 300 801.6 307.6 807.7 314.2 802.6 322.3 803.1 330.5 802.1 340.6 799.6 348.7 797 356.3 791.3 363 797.3 369 808 374.3 810.6 386.3 810.6 393 813.3 399.6 812 409 811.3 417 812.4 423.6 802 430.3 798 434.3 797.3 440.9 785.3 452.9 786.7 458.3 775 465.2 748.5 471.3 710.5 477.4 688.4 481.9 716.5 488 722.6 495.6 731 501.7 754.6 507.8 763 513.9 766.8 520 773.7 526.1 774.4 532.2 772.6 536.8 776.9 544.4 782.2 550.5 786.8 555 789 561.1 797.4 567.2 800.5" fill="none" stroke="#8f8f8f" stroke-width="2.2" stroke-linejoin="round" stroke-linecap="round"/>
<path d="M254 800 260 808 266.7 822.6 271.3 830 277.3 830 284 835.6 296 817.7 302.6 822 308.6 828.6 313.2 829.5 320.3 827.3 325.4 826.5 332.5 823.4 338.6 825 343.7 815.3 349.7 818.9 355.8 795 361.9 810.7 369 816.3 374.1 825 385 820.6 392.3 815.6 399.6 825.3 405 828.6 410.3 830 417 826 427.6 827 434.3 821.3 440.9 820 447.6 818.6 452.9 823 457.6 814.2 465.2 805 471.3 793.6 475.8 777.6 477.4 766 489.5 776.9 495.6 788.3 501.7 800.5 507.8 803.2 513.9 801.2 520 803.8 526.1 806.9 532.2 805 538.3 808.8 544.4 806.9 550.5 810.8 556.6 813.9 561.1 805 567.2 808.1" fill="none" stroke="#262626" stroke-width="2.5" stroke-linejoin="round" stroke-linecap="round"/>
<path d="M254 800 258.7 791.3 265.3 780 272 770.6 277.3 741.7 284 742.6 287.3 740.6 296 732 301.3 741.3 308 754 314.6 760 320 766.6 331.9 768 338.6 764.6 343.9 762.6 349.3 756.6 353 752 357 748.6 362.3 750.6 369 752.4" fill="none" stroke="#b0131a" stroke-width="2.5" stroke-linejoin="round" stroke-linecap="round"/>
<path d="M18.5 0V8.5M0 10.5H10M786.5 0V11M782 10.5H788" stroke="#b4b4b4" stroke-width="1" fill="none"/>
</svg>
<div class="t title" style="left:10.5px;width:375px;text-align:center;top:11.3px">图<span class="lt">21:PTA</span>总库存（含仓单及预报）|单位<span class="tc">:</span>万吨</div>
<div class="t src" style="left:18.9px;top:280.5px">数据来源<span class="c">:</span>忠朴资讯<span class="sp"></span>华泰期货研究院</div>
<div class="t title" style="left:403.5px;width:375px;text-align:center;top:11.3px">图<span class="lt">22:PTA</span>仓单（含预报）|单位<span class="tc">:</span>万吨</div>
<div class="t src" style="left:411.1px;top:280.5px">数据来源<span class="c">:</span>郑州商品交易所华泰期货研究院</div>
<div class="t title" style="left:10.5px;width:375px;text-align:center;top:322.9px">图<span class="lt3">23:</span>聚酯工厂<span class="lt2">TA</span>库存|单位<span class="tc">:</span>万吨</div>
<div class="t src" style="left:18.1px;top:580.4px">数据来源<span class="c">:</span>忠朴资讯<span class="sp"></span>华泰期货研究院</div>
<div class="t title" style="left:403.5px;width:375px;text-align:center;top:322.9px">图<span class="lt">24:TA</span>工厂<span class="lt">TA</span>库存|单位<span class="tc">:</span>万吨</div>
<div class="t src" style="left:411.1px;top:580.4px">数据来源<span class="c">:</span>郑州商品交易所华泰期货研究院</div>
<div class="t title" style="left:215.5px;width:374px;text-align:center;top:633.9px">图<span class="lt">25:PTA</span>在库在港货库存|单位<span class="tc">:</span>万吨</div>
<div class="t src" style="left:223.1px;top:903.5px">数据来源<span class="c">:</span>忠朴资讯<span class="sp"></span>华泰期货研究院</div>
</body></html>
